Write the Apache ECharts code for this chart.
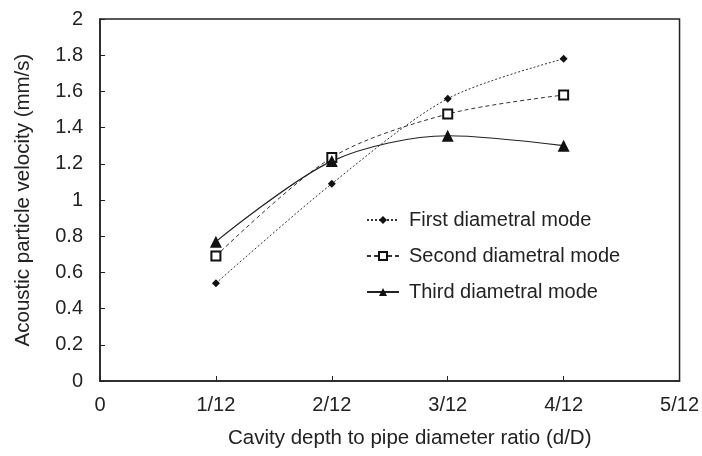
<!DOCTYPE html>
<html>
<head>
<meta charset="utf-8">
<script src="https://cdn.jsdelivr.net/npm/echarts@6/dist/echarts.min.js"></script>
<style>
  html, body { margin: 0; padding: 0; background: #fff; }
  #chart { width: 702px; height: 456px; }
</style>
</head>
<body>
<div id="chart"></div>
<script>
// Cavity depth as numerator of d/D = n/12
const depthNumerators = [1, 2, 3, 4];
const firstMode = [0.54, 1.09, 1.56, 1.78];
const secondMode = [0.69, 1.235, 1.475, 1.58];
const thirdMode = [0.77, 1.215, 1.355, 1.30];
const seriesNames = ['First diametral mode', 'Second diametral mode', 'Third diametral mode'];

const toPairs = vals => depthNumerators.map((n, i) => [n, vals[i]]);
const font = 'Liberation Sans, Arial, sans-serif';
const ink = '#222';

const chart = echarts.init(document.getElementById('chart'), null, { renderer: 'canvas' });
chart.setOption({
  animation: false,
  backgroundColor: '#fff',
  grid: { left: 100, right: 21, top: 19, bottom: 75, show: true, borderColor: ink, borderWidth: 1.5 },
  legend: {
    left: 361, top: 205, orient: 'vertical', itemGap: 16, itemWidth: 32, itemHeight: 10,
    textStyle: { fontFamily: font, fontSize: 20, color: ink, padding: [0, 0, 0, 5] },
    data: seriesNames
  },
  xAxis: {
    type: 'value', min: 0, max: 5, interval: 1,
    name: 'Cavity depth to pipe diameter ratio (d/D)', nameLocation: 'middle', nameGap: 47,
    nameTextStyle: { fontFamily: font, fontSize: 20.5, color: ink, padding: [0, 0, 0, 40] },
    axisLine: { lineStyle: { color: ink, width: 1.5 } },
    axisTick: { inside: true, length: 5, lineStyle: { color: ink } },
    axisLabel: { fontFamily: font, fontSize: 20, color: ink, margin: 14,
      formatter: v => v === 0 ? '0' : v + '/12' },
    splitLine: { show: false }
  },
  yAxis: {
    type: 'value', min: 0, max: 2, interval: 0.2,
    name: 'Acoustic particle velocity (mm/s)', nameLocation: 'middle', nameGap: 66,
    nameTextStyle: { fontFamily: font, fontSize: 20.5, color: ink },
    axisLine: { show: true, lineStyle: { color: ink, width: 1.5 } },
    axisTick: { show: true, inside: true, length: 5, lineStyle: { color: ink } },
    axisLabel: { fontFamily: font, fontSize: 20, color: ink, margin: 17,
      formatter: v => String(Math.round(v * 10) / 10) },
    splitLine: { show: false }
  },
  series: [
    {
      name: seriesNames[0], type: 'line', smooth: 0.3, data: toPairs(firstMode),
      symbol: 'diamond', symbolSize: 8,
      itemStyle: { color: '#111' },
      lineStyle: { color: '#333', width: 1, type: [2, 2] }
    },
    {
      name: seriesNames[1], type: 'line', smooth: 0.3, data: toPairs(secondMode),
      symbol: 'rect', symbolSize: 9,
      itemStyle: { color: '#fff', borderColor: '#111', borderWidth: 2 },
      lineStyle: { color: '#333', width: 1, type: [4, 3] }
    },
    {
      name: seriesNames[2], type: 'line', smooth: 0.3, data: toPairs(thirdMode),
      symbol: 'triangle', symbolSize: 12,
      itemStyle: { color: '#111' },
      lineStyle: { color: '#222', width: 1.2, type: 'solid' }
    }
  ]
});
</script>
</body>
</html>
